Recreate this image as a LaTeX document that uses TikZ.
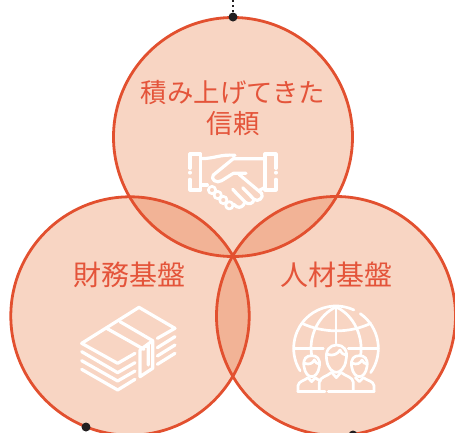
\documentclass[tikz,border=0pt]{standalone}
\usepackage{fontspec}
\newfontfamily\jpfont{Noto Sans CJK JP}
\definecolor{basefill}{HTML}{F8D5C3}
\definecolor{lensfill}{HTML}{F2B396}
\definecolor{ringred}{HTML}{E2502F}
\definecolor{textred}{HTML}{E4543A}
\definecolor{dotdark}{HTML}{231F20}
\tikzset{
  ringline/.style={draw=ringred,line width=2.8pt},
  label/.style={text=textred,font=\jpfont\fontsize{26.4}{31}\selectfont,align=center,inner sep=0pt},
  biglabel/.style={text=textred,font=\jpfont\fontsize{28}{32}\selectfont,align=center,inner sep=0pt},
  icon/.style={draw=white,line width=3.2pt,line cap=round,line join=round},
  thinicon/.style={draw=white,line width=2.7pt,line cap=round,line join=round},
  pin/.style={circle,fill=dotdark,minimum size=9pt,inner sep=0pt},
  lead/.style={draw=dotdark,line width=2.6pt,dash pattern=on 2.4pt off 2.6pt}
}
\begin{document}
\begin{tikzpicture}[x=1pt,y=-1pt]
\useasboundingbox (0,0) rectangle (455,432);
\clip (0,0) rectangle (455,432);
\def\ta{(233,137) circle[radius=119.5]}
\def\tb{(130,316) circle[radius=119.2]}
\def\tc{(336,316) circle[radius=119.5]}
\fill[basefill] \ta; \fill[basefill] \tb; \fill[basefill] \tc;
\begin{scope}\clip \ta; \fill[lensfill] \tb; \fill[lensfill] \tc; \end{scope}
\begin{scope}\clip \tb; \fill[lensfill] \tc; \end{scope}
\draw[ringline] \ta; \draw[ringline] \tb; \draw[ringline] \tc;
% pins and leads
\coordinate (leadtop) at (233,0);
\node[pin] (pina) at (233,17) {};
\draw[lead] (leadtop) -- (pina);
\node[pin] (pinb) at (86,427) {};
\node[pin] (pinc) at (353,435) {};
% labels
\node[label] (t1) at (233,93) {積み上げてきた};
\node[label] (t2) at (233,124) {信頼};
\node[biglabel] (t3) at (129.5,275) {財務基盤};
\node[biglabel] (t4) at (336,275) {人材基盤};
% handshake
\begin{scope}[shift={(170,140)},x=0.3333pt,y=-0.3333pt]
\draw[icon] (60,85)--(60,42)--(92,42)--(92,150)--(60,150)--(60,118);
\draw[icon] (318,85)--(318,42)--(285,42)--(285,150)--(318,150)--(318,118);
\fill[white] (60,98) circle[radius=6]; \fill[white] (318,98) circle[radius=6];
\draw[icon] (92,56) .. controls (135,56) and (150,42) .. (195,46);
\draw[icon] (285,56)--(190,56)--(130,105) .. controls (120,118) and (140,132) .. (155,122)--(190,100)--(228,100);
\draw[icon] (207,103)--(275,160) .. controls (282,172) and (265,188) .. (252,178)--(218,143);
\draw[icon] (252,178) .. controls (250,192) and (235,195) .. (225,186)--(188,148);
\draw[icon] (225,186) .. controls (220,200) and (210,205) .. (200,200)--(190,192);
\draw[icon] (92,135)--(112,135);
\draw[icon] (270,150)--(285,142);
\foreach \cx/\cy in {126/150,143/165,160/180,178/196}{
  \draw[thinicon] (\cx,\cy) circle[radius=11];
}
\end{scope}
% money
\begin{scope}[shift={(70,300)},x=0.3333pt,y=-0.3333pt]
\draw[icon] (195,160)--(143,190)--(35,130)--(207,22)--(315,85)--(262,115);
\draw[icon] (110,85)--(222,148);
\draw[icon] (150,65)--(248,122)--(248,205)--(210,230)--(210,150)--(248,122);
\draw[icon] (225,140)--(235,135)--(235,195);
\draw[icon] (35,155)--(143,218)--(195,188);
\draw[icon] (35,182)--(143,243)--(195,213);
\draw[icon] (35,208)--(143,270)--(195,238);
\draw[icon] (262,143)--(315,110);
\draw[icon] (262,168)--(315,135);
\draw[icon] (262,193)--(315,160);
\end{scope}
% globe and people
\begin{scope}[shift={(280,295)},x=0.3333pt,y=-0.3333pt]
\draw[thinicon] (168,160) ++(148:127) arc[start angle=148,end angle=295,radius=127];
\draw[thinicon] (168,160) ++(305:127) arc[start angle=305,end angle=395,radius=127];
\draw[thinicon] (42,160) -- (130,160);
\draw[thinicon] (205,160) -- (295,160);
\draw[thinicon] (168,36) -- (168,145);
\draw[thinicon] (66,85) .. controls (130,115) and (210,115) .. (272,85);
\draw[thinicon] (168,36) .. controls (115,60) and (85,125) .. (95,180);
\draw[thinicon] (168,36) .. controls (222,60) and (250,125) .. (242,180);
% centre person
\draw[thinicon] (140,195) .. controls (135,165) and (150,150) .. (170,150) .. controls (190,150) and (205,165) .. (198,195) .. controls (195,220) and (180,232) .. (169,232) .. controls (158,232) and (143,220) .. (140,195);
\draw[thinicon] (142,178) .. controls (160,185) and (175,175) .. (180,165) .. controls (185,175) and (190,180) .. (198,180);
\draw[thinicon] (118,288)--(118,262) .. controls (120,245) and (140,245) .. (155,232)--(169,248)--(183,232) .. controls (198,245) and (218,245) .. (220,262)--(220,288);
\draw[thinicon] (145,290)--(282,290);
% left person
\draw[thinicon] (72,215) .. controls (68,190) and (80,182) .. (95,182) .. controls (110,182) and (122,190) .. (118,215) .. controls (115,235) and (105,245) .. (95,245) .. controls (85,245) and (75,235) .. (72,215);
\draw[thinicon] (74,205) .. controls (88,210) and (98,205) .. (103,195) .. controls (106,203) and (112,207) .. (118,207);
\draw[thinicon] (54,290)--(54,272) .. controls (56,258) and (72,258) .. (84,248)--(95,260)--(106,248) .. controls (110,252) and (115,255) .. (122,257);
\draw[thinicon] (54,290)--(135,290);
% right person
\draw[thinicon] (215,215) .. controls (211,190) and (223,182) .. (238,182) .. controls (253,182) and (265,190) .. (261,215) .. controls (258,235) and (248,245) .. (238,245) .. controls (228,245) and (218,235) .. (215,215);
\draw[thinicon] (217,205) .. controls (231,210) and (241,205) .. (246,195) .. controls (249,203) and (255,207) .. (261,207);
\draw[thinicon] (282,290)--(282,272) .. controls (280,258) and (264,258) .. (250,248)--(238,260)--(226,248);
\end{scope}
\end{tikzpicture}
\end{document}
